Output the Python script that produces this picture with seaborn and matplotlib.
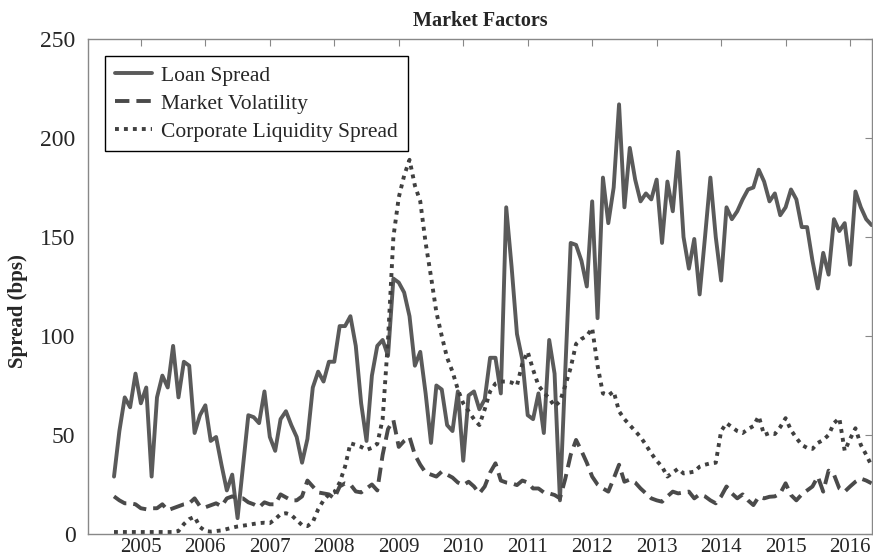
import pandas as pd
import numpy as np
import matplotlib
matplotlib.use("Agg")
import matplotlib.pyplot as plt
import seaborn as sns

# monthly observations, Aug 2004 - May 2016
datas = pd.date_range("2004-08-01", periods=142, freq="MS")

loan_spread = [
    29, 52, 69, 64, 81, 66, 74, 29, 69, 80, 74, 95, 69, 87, 85, 51, 60, 65, 47, 49,
    35, 22, 30, 8, 34, 60, 59, 56, 72, 49, 42, 58, 62, 55, 49, 36, 48, 74, 82, 77,
    87, 87, 105, 105, 110, 95, 66, 47, 80, 95, 98, 90, 129, 127, 122, 110, 85, 92, 71, 46,
    75, 73, 55, 52, 72, 37, 70, 72, 63, 68, 89, 89, 71, 165, 135, 101, 88, 60, 58, 71,
    51, 98, 81, 17, 83, 147, 146, 138, 125, 168, 109, 180, 157, 175, 217, 165, 195, 179, 168, 172,
    169, 179, 147, 178, 163, 193, 150, 134, 149, 121, 150, 180, 150, 128, 165, 159, 163, 169, 174, 175,
    184, 178, 168, 172, 161, 165, 174, 169, 155, 155, 138, 124, 142, 131, 159, 153, 157, 136, 173, 165,
    159, 156,
]

market_volatility = [
    19, 17, 15.5, 15.5, 15, 13, 12.5, 13, 13, 15, 12, 13, 14, 15, 15.5, 18, 14, 13.5, 14.5, 15.5,
    14, 18, 19, 18, 18, 16, 15, 13.5, 16, 15, 15, 20, 18.5, 17, 17, 19, 27, 24, 21, 20.5,
    20, 18, 24, 25.6, 25, 21.5, 21, 23, 25, 22, 40, 53, 57.5, 44, 47, 49, 40, 35, 31, 30,
    29, 31.5, 30, 28.5, 26, 24.7, 26.4, 24, 20.5, 24, 31, 35.7, 27, 26, 25.6, 24.7, 27, 26, 23, 23,
    21, 20.5, 19.7, 18, 28, 40, 47.5, 42, 36, 29, 25, 23, 21.4, 28, 35, 26.4, 27.5, 26, 23, 20.5,
    18, 17, 16.3, 19, 21.4, 20.5, 21, 21.4, 18, 20, 19, 17, 15.5, 19, 24, 20.5, 18, 20, 17, 14.6,
    18.8, 18, 18.8, 19, 20.5, 25.6, 19.7, 17, 20, 22, 24, 29, 21.4, 32, 30, 23, 21.4, 24, 26.4, 28,
    27, 25.6,
]

corporate_liquidity = [
    1, 1, 1, 1, 1, 1, 1, 1, 1, 1, 1, 1, 1.5, 5, 7.5, 8.7, 3.5, 1.5, 1.2, 1.5,
    1.8, 2.5, 3.2, 3.8, 4.2, 4.6, 5.1, 5.5, 5.7, 5.5, 7.5, 10, 10.5, 9.6, 7, 4.5, 4, 6, 12.5, 17,
    20, 21, 26, 34, 45.8, 45, 44, 42.5, 43.5, 45.5, 58, 98, 150, 170, 181, 189, 176, 168, 147, 130,
    112, 100, 89, 82, 73, 66, 62, 58, 55, 63, 72, 76, 77, 77, 76.5, 75, 86, 92, 83, 75,
    71.5, 68.5, 64.5, 67, 75, 84, 96, 98.5, 100, 104, 85, 71, 70, 72, 62, 58, 55, 52, 49, 45,
    40.7, 37, 34, 29, 31, 33, 30.6, 31, 31.5, 34, 35, 35.7, 36, 52, 56, 54, 52, 51, 53, 54.5,
    59.5, 50, 51, 50.5, 54, 58.5, 52.5, 48.5, 45, 43.5, 43, 46, 47.5, 50, 56, 58.5, 42, 48, 53.4, 45,
    40, 34.5,
]

anos = list(range(2005, 2017))

# data em ano decimal
ano_decimal = datas.year + (datas.month - 1) / 12

df = pd.DataFrame({
    "ano": ano_decimal,
    "Loan Spread": loan_spread,
    "Market Volatility": market_volatility,
    "Corporate Liquidity Spread": corporate_liquidity,
})

sns.set_style("white")
plt.rcParams["font.family"] = ["Liberation Serif", "DejaVu Serif"]

fig = plt.figure(figsize=(8.73, 5.58), dpi=100)
ax = fig.add_axes([88 / 873, 24 / 558, 784 / 873, 495 / 558])

sns.lineplot(data=df, x="ano", y="Loan Spread", ax=ax, color="#5a5a5a",
             linewidth=2.8, label="Loan Spread")
sns.lineplot(data=df, x="ano", y="Market Volatility", ax=ax, color="#4a4a4a",
             linewidth=2.8, linestyle=(0, (3.7, 1.8)), label="Market Volatility")
sns.lineplot(data=df, x="ano", y="Corporate Liquidity Spread", ax=ax, color="#404040",
             linewidth=2.8, linestyle=(0, (1, 1.3)), label="Corporate Liquidity Spread")

ax.set_xlim(2004.18, 2016.34)
ax.set_ylim(0, 250)
ax.set_xticks(anos)
ax.set_xticklabels([str(a) for a in anos])
ax.set_yticks([0, 50, 100, 150, 200, 250])

ax.tick_params(direction="in", length=5, width=0.8, color="#888888",
               top=True, right=True)
ax.tick_params(axis="x", labelsize=15, pad=3)
ax.tick_params(axis="y", labelsize=17, pad=9)
for s in ax.spines.values():
    s.set_color("#888888")
    s.set_linewidth(1.0)

ax.set_xlabel("")
ax.set_ylabel("Spread (bps)", fontsize=15, fontweight="bold")
ax.yaxis.set_label_coords(-0.077, 0.45)
ax.set_title("Market Factors", fontsize=14.5, fontweight="bold", pad=9)

leg = ax.legend(loc="upper left", fontsize=15.5, frameon=True, fancybox=False,
                edgecolor="black", framealpha=1, handlelength=1.7, handletextpad=0.45,
                borderaxespad=0.8, borderpad=0.45, labelspacing=0.36)
leg.get_frame().set_linewidth(1.0)

fig.savefig("out.png", dpi=100)
